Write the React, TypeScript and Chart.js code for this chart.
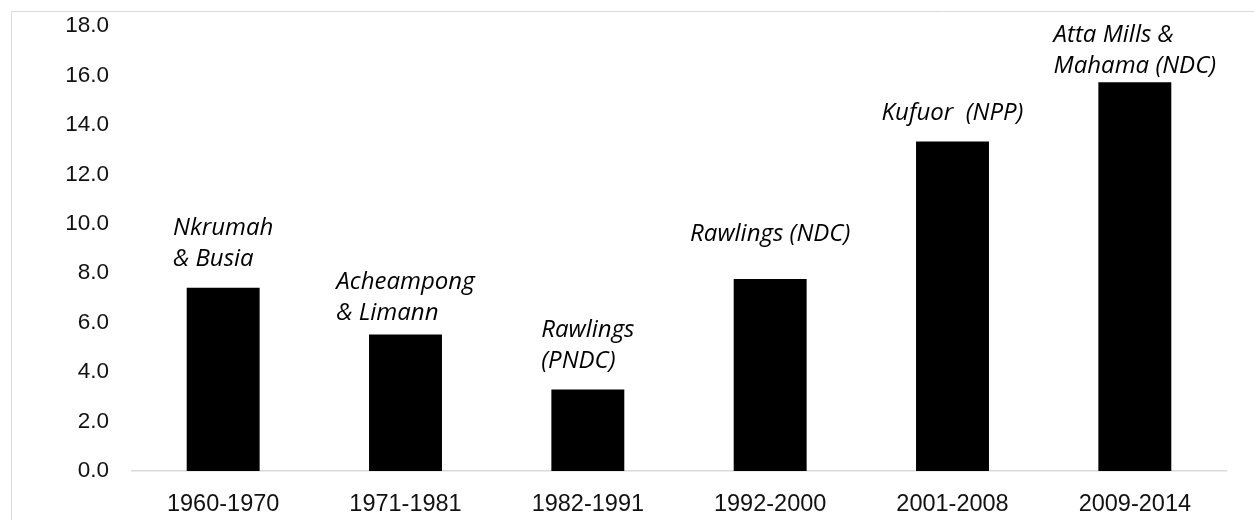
import { useEffect, useRef } from "react";
import { Chart, registerables } from "chart.js";

Chart.register(...registerables);

const periods = ["1960-1970", "1971-1981", "1982-1991", "1992-2000", "2001-2008", "2009-2014"];
const values = [7.41, 5.52, 3.3, 7.77, 13.33, 15.72];
const regimeLabels = [
  ["Nkrumah", "& Busia"],
  ["Acheampong", "& Limann"],
  ["Rawlings", "(PNDC)"],
  ["Rawlings (NDC)"],
  ["Kufuor  (NPP)"],
  ["Atta Mills &", "Mahama (NDC)"],
];
const yMin = 0;
const yMax = 18;
const yStep = 2;

const labelGaps = [22, 15, 21, 38, 21, 9];

const framePlugin = {
  id: "frame",
  afterDraw(chart: any) {
    const ctx = chart.ctx;
    ctx.save();
    ctx.strokeStyle = "#d9d9d9";
    ctx.lineWidth = 1;
    ctx.beginPath();
    ctx.moveTo(11.5, chart.height);
    ctx.lineTo(11.5, 11.5);
    ctx.lineTo(chart.width, 11.5);
    ctx.stroke();
    ctx.restore();
  },
};

const regimePlugin = {
  id: "regimes",
  afterDatasetsDraw(chart: any) {
    const ctx = chart.ctx;
    const meta = chart.getDatasetMeta(0);
    ctx.save();
    ctx.font = 'italic 24px "Open Sans"';
    ctx.fillStyle = "#000";
    ctx.textAlign = "left";
    ctx.textBaseline = "alphabetic";
    const lh = 31;
    meta.data.forEach((bar: any, i: number) => {
      const lines = regimeLabels[i];
      const w = Math.max(...lines.map((l) => ctx.measureText(l).width));
      const left = bar.x - w / 2;
      const last = bar.y - labelGaps[i];
      lines.forEach((l, j) => {
        ctx.fillText(l, left, last - (lines.length - 1 - j) * lh);
      });
    });
    ctx.restore();
  },
};

export default function App() {
  const ref = useRef<HTMLCanvasElement>(null);
  useEffect(() => {
    if (!ref.current) return;
    const chart = new Chart(ref.current, {
      type: "bar",
      data: {
        labels: periods,
        datasets: [
          {
            data: values,
            backgroundColor: "#000000",
            barPercentage: 0.4,
            categoryPercentage: 1,
          },
        ],
      },
      options: {
        animation: false,
        responsive: true,
        maintainAspectRatio: false,
        layout: { padding: { top: 26, right: 28, left: 0, bottom: 0 } },
        plugins: { legend: { display: false }, tooltip: { enabled: false } },
        scales: {
          x: {
            grid: { display: false, drawTicks: false, tickLength: 0 },
            border: { display: true, color: "#d9d9d9", width: 1.5 },
            ticks: {
              color: "#111",
              padding: 19,
              maxRotation: 0,
              font: { family: '"Liberation Sans", Arial, sans-serif', size: 23.5 },
            },
            afterFit(scale: any) {
              scale.height = 49;
              scale.paddingLeft = 0;
              scale.paddingRight = 0;
            },
          },
          y: {
            min: yMin,
            max: yMax,
            grid: { display: false, drawTicks: false, tickLength: 0 },
            border: { display: false },
            ticks: {
              stepSize: yStep,
              color: "#111",
              padding: 23,
              font: { family: '"Liberation Sans", Arial, sans-serif', size: 22.5 },
              callback: (v: any) => Number(v).toFixed(1),
            },
            afterFit(scale: any) {
              scale.width = 132;
              scale.paddingTop = 0;
              scale.paddingBottom = 0;
            },
          },
        },
      },
      plugins: [regimePlugin, framePlugin],
    });
    return () => chart.destroy();
  }, []);
  return (
    <div style={{ position: "fixed", left: 0, top: 0, width: 1254, height: 520, background: "#fff" }}>
      <canvas ref={ref} />
    </div>
  );
}
